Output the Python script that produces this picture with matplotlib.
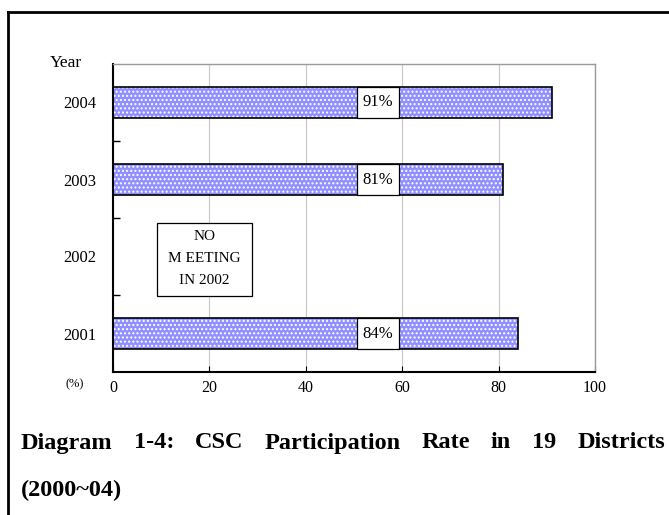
import matplotlib.pyplot as plt
from matplotlib.lines import Line2D
from matplotlib.patches import Rectangle

years = ['2001', '2002', '2003', '2004']
rates = [84, None, 81, 91]
labels = ['84%', None, '81%', '91%']
xticks = [0, 20, 40, 60, 80, 100]
note = 'NO\nM EETING\nIN 2002'
title_lines = ['Diagram 1-4: CSC Participation Rate in 19 Districts', '(2000~04)']

plt.rcParams['font.family'] = 'Liberation Serif'

W, H = 669, 515
fig = plt.figure(figsize=(W / 100, H / 100), dpi=100)

# axes box in pixel coords
left, right, top, bottom = 113, 595, 64, 372
ax = fig.add_axes([left / W, 1 - bottom / H, (right - left) / W, (bottom - top) / H])

bar_h = 0.41
pos = list(range(len(years)))
for i, v in enumerate(rates):
    if v is None:
        continue
    ax.barh(i, v, height=bar_h, color='#8f8fff', edgecolor='white', hatch='....',
            linewidth=0, zorder=2)
    ax.barh(i, v, height=bar_h, fill=False, edgecolor='black', linewidth=1.2, zorder=3)
    ax.add_patch(Rectangle((55 - 4.3, i - bar_h / 2), 8.6, bar_h, fc='white',
                           ec='black', lw=0.9, zorder=4))
    ax.text(55, i, labels[i], ha='center', va='center', fontsize=12, zorder=5)

# note box for the missing year
ax.add_patch(Rectangle((9.1, 0.49), 19.7, 0.95, fc='white', ec='black', lw=0.9, zorder=4))
ax.text(19, 0.97, note, ha='center', va='center', fontsize=11, linespacing=1.9, zorder=5)

ax.set_xlim(0, 100)
ax.set_ylim(-0.5, 3.5)
ax.set_xticks(xticks)
ax.set_xticklabels([str(t) for t in xticks], fontsize=11.5)
ax.set_yticks(pos)
ax.set_yticklabels(years, fontsize=12)
ax.set_yticks([0.5, 1.5, 2.5], minor=True)
ax.tick_params(axis='y', which='major', length=0, pad=12)
ax.tick_params(axis='y', which='minor', length=5, direction='in', width=1)
ax.tick_params(axis='x', length=4, direction='in', pad=6, color='black')
ax.xaxis.grid(True, color='#c8c8c8', linewidth=0.8, zorder=0)
ax.set_axisbelow(True)
for s in ['top', 'right']:
    ax.spines[s].set_color('#9a9a9a')
    ax.spines[s].set_linewidth(1.0)
for s in ['left', 'bottom']:
    ax.spines[s].set_color('black')
    ax.spines[s].set_linewidth(1.5)

fig.text(66 / W, 1 - 63 / H, 'Year', fontsize=12.5, ha='center', va='center')
fig.text(75 / W, 1 - 384 / H, '(%)', fontsize=9, ha='center', va='center')

# caption: first line justified between x=21 and x=665
renderer = fig.canvas.get_renderer()
words = title_lines[0].split(' ')
arts = [fig.text(0, 1 - 443 / H, w, fontsize=17.5, fontweight='bold', ha='left', va='center')
        for w in words]
widths = [a.get_window_extent(renderer).width for a in arts]
gap = (665 - 21 - sum(widths)) / (len(words) - 1)
x = 21
for a, w in zip(arts, widths):
    a.set_x(x / W)
    x += w + gap
fig.text(21 / W, 1 - 490 / H, title_lines[1], fontsize=17.5, fontweight='bold',
         ha='left', va='center')

# outer frame
fig.add_artist(Line2D([8 / W, 1], [1 - 12 / H, 1 - 12 / H], color='black', lw=2,
                      transform=fig.transFigure))
fig.add_artist(Line2D([8 / W, 8 / W], [0, 1 - 12 / H], color='black', lw=2,
                      transform=fig.transFigure))

fig.savefig('out.png', dpi=100)
